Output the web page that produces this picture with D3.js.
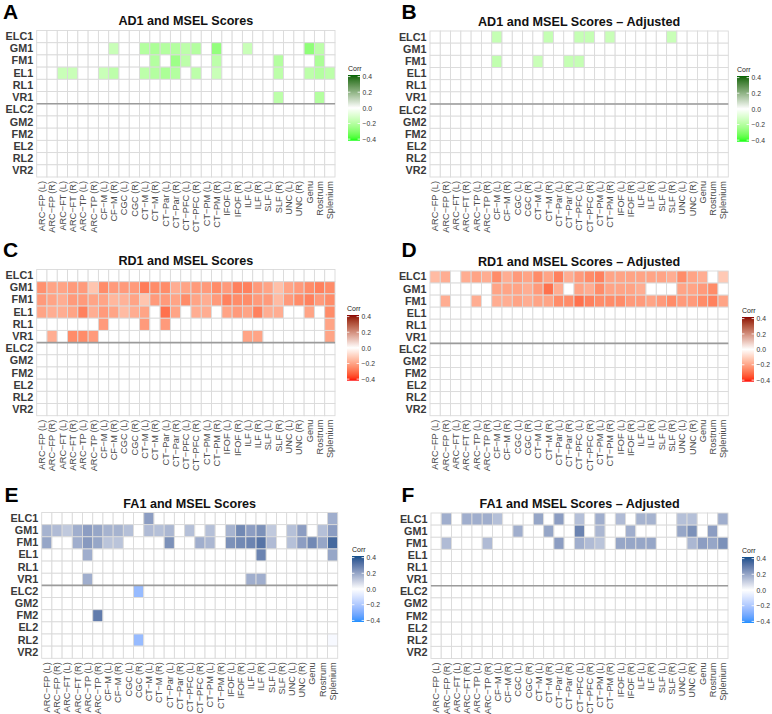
<!DOCTYPE html>
<html><head><meta charset="utf-8">
<script src="https://cdn.jsdelivr.net/npm/d3@7"></script>
<style>
body{margin:0;background:#fff}
svg{display:block}
text{font-family:"Liberation Sans",Arial,Helvetica,sans-serif}
</style>
</head><body>
<svg id="chart" width="772" height="714"></svg>
<script>
// ---------- categories ----------
const tracts = ["ARC−FP (L)","ARC−FP (R)","ARC−FT (L)","ARC−FT (R)","ARC−TP (L)","ARC−TP (R)",
  "CF−M (L)","CF−M (R)","CGC (L)","CGC (R)","CT−M (L)","CT−M (R)","CT−Par (L)","CT−Par (R)",
  "CT−PFC (L)","CT−PFC (R)","CT−PM (L)","CT−PM (R)","IFOF (L)","IFOF (R)","ILF (L)","ILF (R)",
  "SLF (L)","SLF (R)","UNC (L)","UNC (R)","Genu","Rostrum","Splenium"];
const measures = ["ELC1","GM1","FM1","EL1","RL1","VR1","ELC2","GM2","FM2","EL2","RL2","VR2"];
const legendTicks = [0.4, 0.2, 0.0, -0.2, -0.4];
const corrLimits = [-0.42, 0.42];

// ---------- values (rows = measures, columns = tracts; 0 = not significant / blank) ----------
const AD1 = [
 [0,0,0,0,0,0,0,0,0,0, 0,0,0,0,0,0,0,0,0,0, 0,0,0,0,0,0,0,0,0],
 [0,0,0,0,0,0,0,-.15,0,0, -.2,-.22,-.2,-.2,-.18,-.2,0,-.27,0,0, -.15,0,0,0,0,0,-.28,-.18,0],
 [0,0,0,0,0,0,0,0,0,0, 0,-.2,0,-.25,-.18,0,0,-.18,0,0, 0,0,0,-.2,0,0,0,-.22,0],
 [0,0,-.15,-.15,0,0,-.15,-.18,0,0, -.18,-.2,-.22,-.2,0,-.18,0,-.15,0,0, 0,0,0,-.18,0,0,-.18,-.2,-.18],
 [0,0,0,0,0,0,0,0,0,0, 0,0,0,0,0,0,0,0,0,0, 0,0,0,0,0,0,0,0,0],
 [0,0,0,0,0,0,0,0,0,0, 0,0,0,0,0,0,0,0,0,0, 0,0,0,-.18,0,0,0,-.2,0],
 [0,0,0,0,0,0,0,0,0,0, 0,0,0,0,0,0,0,0,0,0, 0,0,0,0,0,0,0,0,0],
 [0,0,0,0,0,0,0,0,0,0, 0,0,0,0,0,0,0,0,0,0, 0,0,0,0,0,0,0,0,0],
 [0,0,0,0,0,0,0,0,0,0, 0,0,0,0,0,0,0,0,0,0, 0,0,0,0,0,0,0,0,0],
 [0,0,0,0,0,0,0,0,0,0, 0,0,0,0,0,0,0,0,0,0, 0,0,0,0,0,0,0,0,0],
 [0,0,0,0,0,0,0,0,0,0, 0,0,0,0,0,0,0,0,0,0, 0,0,0,0,0,0,0,0,0],
 [0,0,0,0,0,0,0,0,0,0, 0,0,0,0,0,0,0,0,0,0, 0,0,0,0,0,0,0,0,0]
];
const AD1adj = [
 [0,0,0,0,0,0,-.16,0,0,0, 0,-.16,0,0,-.16,-.16,0,-.15,0,0, 0,0,0,-.15,0,0,0,0,0],
 [0,0,0,0,0,0,0,0,0,0, 0,0,0,0,0,0,0,0,0,0, 0,0,0,0,0,0,0,0,0],
 [0,0,0,0,0,0,-.17,0,0,0, -.15,0,0,-.16,-.16,0,0,0,0,0, 0,0,0,0,0,0,0,0,0],
 [0,0,0,0,0,0,0,0,0,0, 0,0,0,0,0,0,0,0,0,0, 0,0,0,0,0,0,0,0,0],
 [0,0,0,0,0,0,0,0,0,0, 0,0,0,0,0,0,0,0,0,0, 0,0,0,0,0,0,0,0,0],
 [0,0,0,0,0,0,0,0,0,0, 0,0,0,0,0,0,0,0,0,0, 0,0,0,0,0,0,0,0,0],
 [0,0,0,0,0,0,0,0,0,0, 0,0,0,0,0,0,0,0,0,0, 0,0,0,0,0,0,0,0,0],
 [0,0,0,0,0,0,0,0,0,0, 0,0,0,0,0,0,0,0,0,0, 0,0,0,0,0,0,0,0,0],
 [0,0,0,0,0,0,0,0,0,0, 0,0,0,0,0,0,0,0,0,0, 0,0,0,0,0,0,0,0,0],
 [0,0,0,0,0,0,0,0,0,0, 0,0,0,0,0,0,0,0,0,0, 0,0,0,0,0,0,0,0,0],
 [0,0,0,0,0,0,0,0,0,0, 0,0,0,0,0,0,0,0,0,0, 0,0,0,0,0,0,0,0,0],
 [0,0,0,0,0,0,0,0,0,0, 0,0,0,0,0,0,0,0,0,0, 0,0,0,0,0,0,0,0,0]
];
const RD1 = [
 [0,0,0,0,0,0,0,0,0,0, 0,0,0,0,0,0,0,0,0,0, 0,0,0,0,0,0,0,0,0],
 [-.24,-.2,-.2,-.22,-.22,-.13,-.25,-.22,-.22,-.22, -.28,-.25,-.25,-.18,-.2,-.22,-.22,-.25,-.22,-.27, -.27,-.22,-.2,-.14,-.2,-.22,-.25,-.27,-.25],
 [-.22,-.2,-.18,-.22,-.22,-.2,-.2,-.16,-.17,-.2, -.13,-.22,-.22,-.2,-.25,-.2,-.18,-.22,-.27,-.25, -.25,-.22,-.22,-.15,-.22,-.25,-.27,-.22,-.25],
 [-.2,-.18,-.18,-.2,-.27,-.18,-.22,-.2,-.15,-.18, -.2,0,-.3,-.2,0,-.18,-.18,0,-.2,-.22, -.2,-.27,-.18,-.18,0,0,-.2,0,-.25],
 [0,0,0,0,0,0,-.22,0,0,0, -.22,0,-.22,0,0,0,0,0,0,0, 0,0,0,0,0,0,0,0,-.2],
 [0,-.18,0,-.25,-.25,-.22,0,0,0,0, 0,0,0,0,0,0,0,0,0,0, -.2,-.2,0,0,0,0,0,0,-.2],
 [0,0,0,0,0,0,0,0,0,0, 0,0,0,0,0,0,0,0,0,0, 0,0,0,0,0,0,0,0,0],
 [0,0,0,0,0,0,0,0,0,0, 0,0,0,0,0,0,0,0,0,0, 0,0,0,0,0,0,0,0,0],
 [0,0,0,0,0,0,0,0,0,0, 0,0,0,0,0,0,0,0,0,0, 0,0,0,0,0,0,0,0,0],
 [0,0,0,0,0,0,0,0,0,0, 0,0,0,0,0,0,0,0,0,0, 0,0,0,0,0,0,0,0,0],
 [0,0,0,0,0,0,0,0,0,0, 0,0,0,0,0,0,0,0,0,0, 0,0,0,0,0,0,0,0,0],
 [0,0,0,0,0,0,0,0,0,0, 0,0,0,0,0,0,0,0,0,0, 0,0,0,0,0,0,0,0,0]
];
const RD1adj = [
 [-.15,-.18,0,-.18,-.2,-.18,-.25,-.18,-.22,-.2, -.25,-.2,-.27,-.18,-.22,-.25,-.27,-.2,-.2,-.2, -.2,-.2,-.2,-.18,-.25,-.2,-.18,0,-.12],
 [0,0,0,0,0,0,-.2,-.2,-.2,-.18, -.22,-.3,-.18,0,-.2,-.18,-.25,-.2,-.2,-.2, -.18,0,0,0,-.2,-.2,-.22,-.25,0],
 [0,-.18,0,0,-.18,0,-.18,-.18,-.2,-.18, -.2,-.2,-.25,-.25,-.3,-.27,-.25,-.25,-.25,-.22, -.22,-.2,-.22,-.25,-.22,-.22,-.25,-.27,-.2],
 [0,0,0,0,0,0,0,0,0,0, 0,0,0,0,0,0,0,0,0,0, 0,0,0,0,0,0,0,0,0],
 [0,0,0,0,0,0,0,0,0,0, 0,0,0,0,0,0,0,0,0,0, 0,0,0,0,0,0,0,0,0],
 [0,0,0,0,0,0,0,0,0,0, 0,0,0,0,0,0,0,0,0,0, 0,0,0,0,0,0,0,0,0],
 [0,0,0,0,0,0,0,0,0,0, 0,0,0,0,0,0,0,0,0,0, 0,0,0,0,0,0,0,0,0],
 [0,0,0,0,0,0,0,0,0,0, 0,0,0,0,0,0,0,0,0,0, 0,0,0,0,0,0,0,0,0],
 [0,0,0,0,0,0,0,0,0,0, 0,0,0,0,0,0,0,0,0,0, 0,0,0,0,0,0,0,0,0],
 [0,0,0,0,0,0,0,0,0,0, 0,0,0,0,0,0,0,0,0,0, 0,0,0,0,0,0,0,0,0],
 [0,0,0,0,0,0,0,0,0,0, 0,0,0,0,0,0,0,0,0,0, 0,0,0,0,0,0,0,0,0],
 [0,0,0,0,0,0,0,0,0,0, 0,0,0,0,0,0,0,0,0,0, 0,0,0,0,0,0,0,0,0]
];
const FA1 = [
 [0,0,0,0,0,0,0,0,0,0, .22,0,0,0,0,0,0,0,0,0, 0,0,0,0,0,0,0,0,.18],
 [.17,.15,.12,.18,.22,.2,.17,.17,.14,0, .15,.14,.16,0,.14,0,.14,0,.17,.27, .22,.25,.12,0,.14,.22,0,.14,.22],
 [.2,0,0,.18,.23,.2,.13,.13,0,0, 0,0,.25,0,0,.18,.16,0,.25,.27, .28,.32,.15,0,.14,.22,.27,.2,.35],
 [0,0,0,0,.18,0,0,0,0,0, 0,0,0,0,0,0,0,0,0,0, 0,.28,0,0,0,0,0,0,.2],
 [0,0,0,0,0,0,0,0,0,0, 0,0,0,0,0,0,0,0,0,0, 0,0,0,0,0,0,0,0,0],
 [0,0,0,0,.18,0,0,0,0,0, 0,0,0,0,0,0,0,0,0,0, .18,.18,0,0,0,0,0,0,0],
 [0,0,0,0,0,0,0,0,0,-.25, 0,0,0,0,0,0,0,0,0,0, 0,0,0,0,0,0,0,0,0],
 [0,0,0,0,0,0,0,0,0,0, 0,0,0,0,0,0,0,0,0,0, 0,0,0,0,0,0,0,0,0],
 [0,0,0,0,0,.3,0,0,0,0, 0,0,0,0,0,0,0,0,0,0, 0,0,0,0,0,0,0,0,0],
 [0,0,0,0,0,0,0,0,0,0, 0,0,0,0,0,0,0,0,0,0, 0,0,0,0,0,0,0,0,0],
 [0,0,0,0,0,0,0,0,0,-.25, 0,0,0,0,0,0,0,0,0,0, 0,0,0,0,0,0,0,0,-.02],
 [0,0,0,0,0,0,0,0,0,0, 0,0,0,0,0,0,0,0,0,0, 0,0,0,0,0,0,0,0,0]
];
const FA1adj = [
 [0,.18,0,.18,.18,.18,.14,0,0,0, .2,0,.22,0,.14,0,.18,0,.15,0, .17,.17,0,0,.14,.14,0,0,.18],
 [0,0,0,0,0,0,0,0,.18,0, 0,.2,0,0,.28,0,.16,0,0,.18, 0,0,0,0,.2,.25,0,.22,0],
 [0,.15,0,0,0,.15,0,0,0,0, 0,0,.22,0,.18,.15,.13,0,.2,.2, .2,.2,0,0,0,.16,.22,.2,.25],
 [0,0,0,0,0,0,0,0,0,0, 0,0,0,0,0,0,0,0,0,0, 0,0,0,0,0,0,0,0,0],
 [0,0,0,0,0,0,0,0,0,0, 0,0,0,0,0,0,0,0,0,0, 0,0,0,0,0,0,0,0,0],
 [0,0,0,0,0,0,0,0,0,0, 0,0,0,0,0,0,0,0,0,0, 0,0,0,0,0,0,0,0,0],
 [0,0,0,0,0,0,0,0,0,0, 0,0,0,0,0,0,0,0,0,0, 0,0,0,0,0,0,0,0,0],
 [0,0,0,0,0,0,0,0,0,0, 0,0,0,0,0,0,0,0,0,0, 0,0,0,0,0,0,0,0,0],
 [0,0,0,0,0,0,0,0,0,0, 0,0,0,0,0,0,0,0,0,0, 0,0,0,0,0,0,0,0,0],
 [0,0,0,0,0,0,0,0,0,0, 0,0,0,0,0,0,0,0,0,0, 0,0,0,0,0,0,0,0,0],
 [0,0,0,0,0,0,0,0,0,0, 0,0,0,0,0,0,0,0,0,0, 0,0,0,0,0,0,0,0,0],
 [0,0,0,0,0,0,0,0,0,0, 0,0,0,0,0,0,0,0,0,0, 0,0,0,0,0,0,0,0,0]
];

// ---------- panel layout & styles ----------
const panels = [
 {letter:"A", title:"AD1 and MSEL Scores", data:AD1, low:"#00FF00", high:"#006400",
  gx:[36.7,335], gy:[30.5,177], leg:[348,75,140.7], lp:[3,18.5], ty:25},
 {letter:"B", title:"AD1 and MSEL Scores – Adjusted", data:AD1adj, low:"#00FF00", high:"#006400",
  gx:[430,728.3], gy:[31,177], leg:[737,76,141.7], lp:[401.5,18.5], ty:25.5},
 {letter:"C", title:"RD1 and MSEL Scores", data:RD1, low:"#FF0000", high:"#8B0000",
  gx:[36.7,335], gy:[269.5,415.7], leg:[347,315,380.7], lp:[3,257], ty:265},
 {letter:"D", title:"RD1 and MSEL Scores – Adjusted", data:RD1adj, low:"#FF0000", high:"#8B0000",
  gx:[430,728.3], gy:[271,415.7], leg:[742,317,381.7], lp:[401.5,257], ty:265.5},
 {letter:"E", title:"FA1 and MSEL Scores", data:FA1, low:"#1E90FF", high:"#104E8B",
  gx:[41.7,337.7], gy:[512.5,658.3], leg:[352,556,622], lp:[4.5,501.5], ty:507.7},
 {letter:"F", title:"FA1 and MSEL Scores – Adjusted", data:FA1adj, low:"#1E90FF", high:"#104E8B",
  gx:[431,728], gy:[513,658.5], leg:[742,557,623], lp:[401.5,501.5], ty:507.7}
];

const svg = d3.select("#chart");
svg.append("rect").attr("width",772).attr("height",714).attr("fill","#fff");
const defs = svg.append("defs");

panels.forEach((p, pi) => {
  const g = svg.append("g");
  const x = d3.scaleBand().domain(tracts).range(p.gx);
  const y = d3.scaleBand().domain(measures).range(p.gy);
  const color = d3.scaleLinear().domain([corrLimits[0], 0, corrLimits[1]])
    .range([p.low, "#ffffff", p.high]).interpolate(d3.interpolateLab).clamp(true);

  const cells = [];
  p.data.forEach((row, ri) => row.forEach((v, ci) => cells.push({m: measures[ri], t: tracts[ci], v})));

  g.append("g").selectAll("rect").data(cells).join("rect")
    .attr("x", d => x(d.t)).attr("y", d => y(d.m))
    .attr("width", x.bandwidth()).attr("height", y.bandwidth())
    .attr("fill", d => d.v === 0 ? "#ffffff" : color(d.v))
    .attr("stroke", "#dadada").attr("stroke-width", 0.9);

  // separator between time points
  g.append("line")
    .attr("x1", p.gx[0]).attr("x2", p.gx[1])
    .attr("y1", y("ELC2")).attr("y2", y("ELC2"))
    .attr("stroke", "#9b9b9b").attr("stroke-width", 1.6);

  // y axis
  const ya = g.append("g").attr("transform", `translate(${p.gx[0]},0)`)
    .call(d3.axisLeft(y).tickSize(0).tickPadding(3.5));
  ya.select(".domain").remove();
  ya.selectAll("text").attr("font-size", 10.8).attr("font-weight", "bold")
    .attr("fill", "#3a3a3a").attr("font-family", "Liberation Sans, Arial, sans-serif");

  // x axis
  const xa = g.append("g").attr("transform", `translate(0,${p.gy[1]})`)
    .call(d3.axisBottom(x).tickSize(0));
  xa.select(".domain").remove();
  xa.selectAll("text")
    .attr("transform", "rotate(-90)")
    .attr("text-anchor", "end")
    .attr("x", -4).attr("y", 0).attr("dy", "0.35em")
    .attr("font-size", 9.2).attr("fill", "#4d4d4d")
    .attr("font-family", "Liberation Sans, Arial, sans-serif");

  // title
  g.append("text").attr("x", (p.gx[0] + p.gx[1]) / 2).attr("y", p.ty)
    .attr("text-anchor", "middle").attr("font-size", 12.6).attr("font-weight", "bold")
    .attr("fill", "#111").text(p.title);

  // panel letter
  g.append("text").attr("x", p.lp[0]).attr("y", p.lp[1])
    .attr("font-size", 21).attr("font-weight", "bold").attr("fill", "#000").text(p.letter);

  // legend
  const [lx, ly0, ly1] = p.leg;
  const bw = 12;
  const ls = d3.scaleLinear().domain(corrLimits).range([ly1, ly0]);
  const gid = "grad" + pi;
  const grad = defs.append("linearGradient").attr("id", gid)
    .attr("x1", 0).attr("y1", 1).attr("x2", 0).attr("y2", 0);
  d3.ticks(corrLimits[0], corrLimits[1], 40).concat(corrLimits).sort(d3.ascending).forEach(v => {
    grad.append("stop")
      .attr("offset", (v - corrLimits[0]) / (corrLimits[1] - corrLimits[0]))
      .attr("stop-color", color(v));
  });
  const lg = g.append("g");
  lg.append("rect").attr("x", lx).attr("y", ly0).attr("width", bw).attr("height", ly1 - ly0)
    .attr("fill", `url(#${gid})`);
  lg.selectAll("line.tk").data(legendTicks).join("line").attr("class", "tk")
    .attr("x1", lx).attr("x2", lx + 2.4).attr("y1", d => ls(d)).attr("y2", d => ls(d))
    .attr("stroke", "#fff").attr("stroke-width", 0.8);
  lg.selectAll("line.tk2").data(legendTicks).join("line").attr("class", "tk2")
    .attr("x1", lx + bw - 2.4).attr("x2", lx + bw).attr("y1", d => ls(d)).attr("y2", d => ls(d))
    .attr("stroke", "#fff").attr("stroke-width", 0.8);
  const la = lg.append("g").attr("transform", `translate(${lx + bw},0)`)
    .call(d3.axisRight(ls).tickValues(legendTicks).tickFormat(d3.format(".1f")).tickSize(0).tickPadding(2.5));
  la.select(".domain").remove();
  la.selectAll("text").attr("font-size", 6.8).attr("fill", "#333")
    .attr("font-family", "Liberation Sans, Arial, sans-serif");
  lg.append("text").attr("x", lx).attr("y", ly0 - 4).attr("font-size", 7)
    .attr("fill", "#222").text("Corr");
});
</script>
</body></html>
